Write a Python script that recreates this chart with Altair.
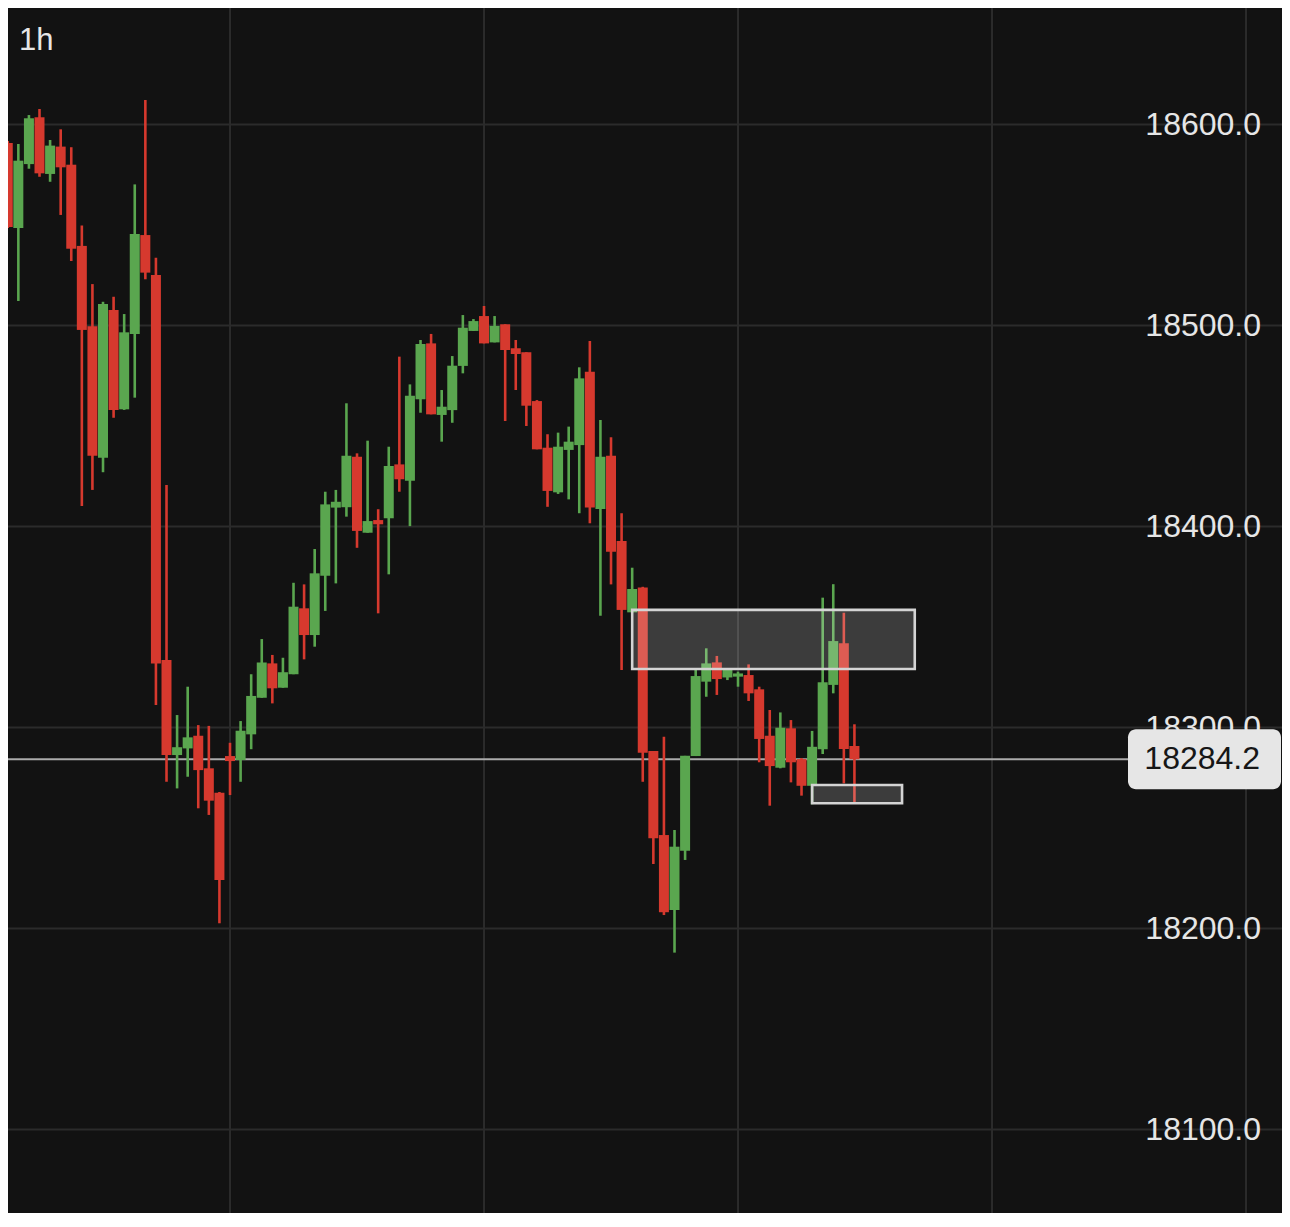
import altair as alt
import pandas as pd

# ---- data (1h candles) ----
idx = list(range(1, 82))
opens = [18590.8, 18548.5, 18580.3, 18603.6, 18575.4, 18589.0, 18580.0, 18539.6, 18499.6, 18434.2,
         18507.7, 18458.3, 18495.8, 18545.0, 18525.1, 18333.6, 18286.3, 18289.6, 18295.9, 18279.7,
         18267.6, 18285.8, 18283.8, 18296.6, 18314.8, 18331.9, 18319.8, 18326.5, 18359.3, 18346.0,
         18375.5, 18409.4, 18409.6, 18434.7, 18396.9, 18403.2, 18404.1, 18430.9, 18422.8, 18463.3,
         18491.1, 18455.5, 18457.9, 18479.9, 18497.3, 18504.7, 18491.6, 18500.6, 18488.7, 18486.7,
         18462.4, 18439.2, 18417.0, 18438.1, 18440.5, 18477.0, 18408.7, 18435.2, 18392.8, 18357.3,
         18369.6, 18288.3, 18246.5, 18209.2, 18238.7, 18285.8, 18322.8, 18332.4, 18324.9, 18325.3,
         18326.1, 18319.0, 18295.9, 18280.0, 18299.6, 18284.3, 18271.0, 18289.2, 18321.2, 18341.9,
         18290.8]
highs = [18591.8, 18590.3, 18604.7, 18607.7, 18592.3, 18597.6, 18588.7, 18549.7, 18520.6, 18511.8,
         18514.3, 18505.7, 18570.2, 18612.2, 18533.7, 18420.6, 18306.2, 18320.3, 18301.2, 18300.8,
         18267.9, 18292.4, 18303.2, 18326.5, 18344.0, 18336.1, 18334.7, 18372.0, 18371.2, 18388.8,
         18417.3, 18418.2, 18461.3, 18436.4, 18442.7, 18408.6, 18439.7, 18484.5, 18470.7, 18492.8,
         18495.8, 18467.9, 18484.8, 18505.2, 18503.2, 18509.7, 18504.7, 18500.6, 18492.8, 18486.7,
         18462.9, 18445.9, 18446.7, 18449.7, 18479.2, 18492.3, 18453.0, 18444.4, 18406.6, 18379.5,
         18370.0, 18288.3, 18295.4, 18249.0, 18285.9, 18328.6, 18339.4, 18335.6, 18328.6, 18327.8,
         18331.4, 18320.3, 18308.7, 18307.5, 18303.7, 18284.8, 18298.3, 18364.6, 18371.3, 18357.1,
         18301.6]
lows = [18548.5, 18512.2, 18578.0, 18574.0, 18571.5, 18555.0, 18532.1, 18410.2, 18418.2, 18427.0,
        18454.1, 18458.0, 18464.1, 18523.0, 18311.2, 18273.0, 18269.7, 18275.5, 18259.8, 18256.5,
        18202.6, 18266.4, 18273.0, 18289.2, 18314.8, 18312.0, 18319.8, 18326.5, 18333.9, 18340.2,
        18358.0, 18371.7, 18404.9, 18389.4, 18396.9, 18356.8, 18376.2, 18417.3, 18400.2, 18456.6,
        18455.8, 18442.2, 18451.6, 18476.2, 18497.3, 18491.1, 18491.6, 18452.5, 18467.9, 18450.0,
        18438.4, 18409.8, 18416.2, 18413.5, 18406.6, 18401.6, 18355.6, 18371.2, 18328.6, 18357.3,
        18273.0, 18232.1, 18206.7, 18188.0, 18234.1, 18285.8, 18315.3, 18316.2, 18323.6, 18320.3,
        18313.2, 18282.7, 18261.1, 18279.7, 18272.7, 18266.1, 18261.8, 18286.8, 18317.0, 18272.2,
        18262.3]
closes = [18549.0, 18582.0, 18603.1, 18575.7, 18589.5, 18578.7, 18538.2, 18497.8, 18435.2, 18510.7,
          18457.9, 18496.6, 18545.5, 18526.3, 18331.9, 18286.3, 18290.2, 18295.1, 18278.8, 18263.6,
          18224.1, 18283.3, 18298.4, 18315.7, 18332.4, 18319.5, 18327.5, 18360.1, 18346.0, 18376.7,
          18411.0, 18412.3, 18435.2, 18397.8, 18402.7, 18401.1, 18430.1, 18423.5, 18465.1, 18490.8,
          18455.8, 18459.6, 18480.0, 18498.9, 18502.2, 18491.1, 18499.8, 18487.8, 18485.8, 18460.1,
          18438.4, 18417.7, 18439.7, 18442.2, 18473.7, 18409.4, 18434.7, 18387.5, 18358.5, 18368.9,
          18287.5, 18244.9, 18208.1, 18240.7, 18285.9, 18325.6, 18331.9, 18324.1, 18328.6, 18326.9,
          18317.0, 18294.3, 18280.8, 18299.9, 18282.7, 18271.0, 18290.4, 18322.5, 18343.0, 18289.3,
          18284.2]

last_price = 18284.2
price_ticks = [18100, 18200, 18300, 18400, 18500, 18600]
day_ticks = [22, 46, 70, 94, 118]
zone_x1 = [60.0, 77.0]
zone_x2 = [86.7, 85.5]
zone_top = [18358.5, 18271.4]
zone_bottom = [18329.1, 18262.3]
interval_label = "1h"

GREEN = "#5aa64f"
RED = "#d6392e"
BG = "#121212"
GRID = "#2b2b2b"
FONT = "Liberation Sans"

W, H = 1274, 1205

df = pd.DataFrame({"i": idx, "o": opens, "h": highs, "l": lows, "c": closes})
df["dir"] = ["up" if c >= o else "down" for o, c in zip(opens, closes)]

xs = alt.Scale(domain=[1.023, 121.40], nice=False, zero=False, padding=0)
ys = alt.Scale(domain=[18058.46, 18657.96], nice=False, zero=False, padding=0)
col = alt.Color("dir:N", scale=alt.Scale(domain=["up", "down"], range=[GREEN, RED]), legend=None)

grid_h = alt.Chart(pd.DataFrame({"p": price_ticks})).mark_rule(color=GRID, strokeWidth=2).encode(
    y=alt.Y("p:Q", scale=ys, axis=None))
grid_v = alt.Chart(pd.DataFrame({"i": day_ticks})).mark_rule(color=GRID, strokeWidth=2).encode(
    x=alt.X("i:Q", scale=xs, axis=None))

price_line = alt.Chart(pd.DataFrame({"p": [last_price]})).mark_rule(color="#ababab", strokeWidth=2).encode(
    y=alt.Y("p:Q", scale=ys, axis=None), x=alt.value(0), x2=alt.value(1120))

base = alt.Chart(df)
wicks = base.mark_rule(strokeWidth=2.6, clip=True).encode(
    x=alt.X("i:Q", scale=xs, axis=None),
    y=alt.Y("l:Q", scale=ys, axis=None),
    y2="h:Q",
    color=col)
bodies = base.mark_bar(size=10, clip=True).encode(
    x=alt.X("i:Q", scale=xs, axis=None),
    y=alt.Y("o:Q", scale=ys, axis=None),
    y2="c:Q",
    color=col)

zones_df = pd.DataFrame({"x1": zone_x1, "x2": zone_x2, "t": zone_top, "b": zone_bottom})
zones = alt.Chart(zones_df).mark_rect(fill="#ffffff", fillOpacity=0.18, stroke="#d4d4d4",
                                      strokeWidth=2.6).encode(
    x=alt.X("x1:Q", scale=xs, axis=None), x2="x2:Q",
    y=alt.Y("t:Q", scale=ys, axis=None), y2="b:Q")

labels = alt.Chart(pd.DataFrame({"p": price_ticks,
                                 "lab": [f"{v:.1f}" for v in price_ticks]})).mark_text(
    align="right", baseline="middle", font=FONT, fontSize=32, color="#e6e6e6").encode(
    y=alt.Y("p:Q", scale=ys, axis=None), x=alt.value(1253), text="lab:N")

tag_df = pd.DataFrame({"p": [last_price], "lab": [f"{last_price:.1f}"]})
tag = alt.Chart(tag_df).mark_bar(orient="horizontal", size=60, cornerRadius=8, color="#e6e6e6").encode(
    y=alt.Y("p:Q", scale=ys, axis=None), x=alt.value(1120), x2=alt.value(1273))
tag_text = alt.Chart(tag_df).mark_text(align="right", baseline="middle", font=FONT, fontSize=32,
                                       color="#161616").encode(
    y=alt.Y("p:Q", scale=ys, axis=None), x=alt.value(1252), text="lab:N")

interval = alt.Chart(pd.DataFrame({"t": [interval_label]})).mark_text(
    align="left", baseline="alphabetic", font=FONT, fontSize=31, color="#e6e6e6").encode(
    x=alt.value(11), y=alt.value(42), text="t:N")

chart = alt.layer(grid_h, grid_v, price_line, wicks, bodies, zones, labels, tag, tag_text, interval).properties(
    width=W, height=H, background=BG, padding=0,
    autosize=alt.AutoSizeParams(type="none")
).configure_view(stroke=None)

chart.save("out.html", embed_options={"renderer": "svg", "actions": False})
